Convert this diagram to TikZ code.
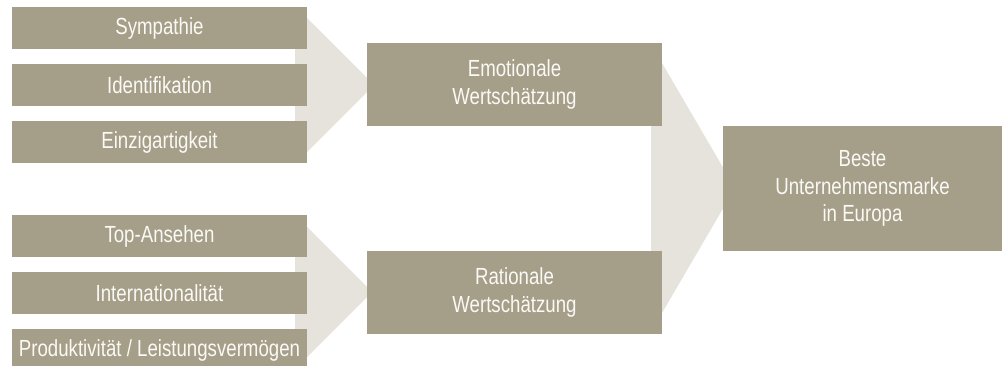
\documentclass[tikz,border=0pt]{standalone}
\usepackage{fontspec}
\setmainfont{Liberation Sans}[FakeStretch=0.8]
\definecolor{boxc}{RGB}{165,158,136}
\definecolor{func}{RGB}{230,227,220}
\definecolor{txtc}{RGB}{250,249,245}
\begin{document}
\begin{tikzpicture}[x=0.75pt,y=-0.75pt,
  box/.style={fill=boxc,draw=none,text=txtc,align=center,inner sep=0pt,
    font=\fontsize{17.5}{20.5}\selectfont},
  small/.style={box,minimum width=295*0.75pt,minimum height=42*0.75pt},
  mid/.style={box,minimum width=295*0.75pt,minimum height=83*0.75pt},
  big/.style={box,minimum width=279*0.75pt,minimum height=125*0.75pt},
  funnel/.style={fill=func,draw=none}]
\useasboundingbox (0,0) rectangle (1002,366);
\clip (0,0) rectangle (1002,366);
% funnels
\fill[funnel] (295,18) -- (307,18) -- (374,85) -- (307,152) -- (295,152) -- cycle;
\fill[funnel] (295,227) -- (307,227) -- (372,292) -- (307,357) -- (295,357) -- cycle;
\fill[funnel] (651,63) -- (662,63) -- (735,188) -- (662,313) -- (651,313) -- cycle;
% boxes
\node[small] (sym) at (159.5,28) {Sympathie};
\node[small] (ide) at (159.5,85) {Identifikation};
\node[small] (ein) at (159.5,142) {Einzigartigkeit};
\node[small] (top) at (159.5,236) {Top-Ansehen};
\node[small] (int) at (159.5,293) {Internationalität};
\node[small] (pro) at (159.5,350) {Produktivität / Leistungsvermögen};
\node[mid] (emo) at (514.5,84.5) {Emotionale\\Wertschätzung};
\node[mid] (rat) at (514.5,292.5) {Rationale\\Wertschätzung};
\node[big] (bes) at (862.5,188.5) {Beste\\Unternehmensmarke\\in Europa};
\end{tikzpicture}
\end{document}
